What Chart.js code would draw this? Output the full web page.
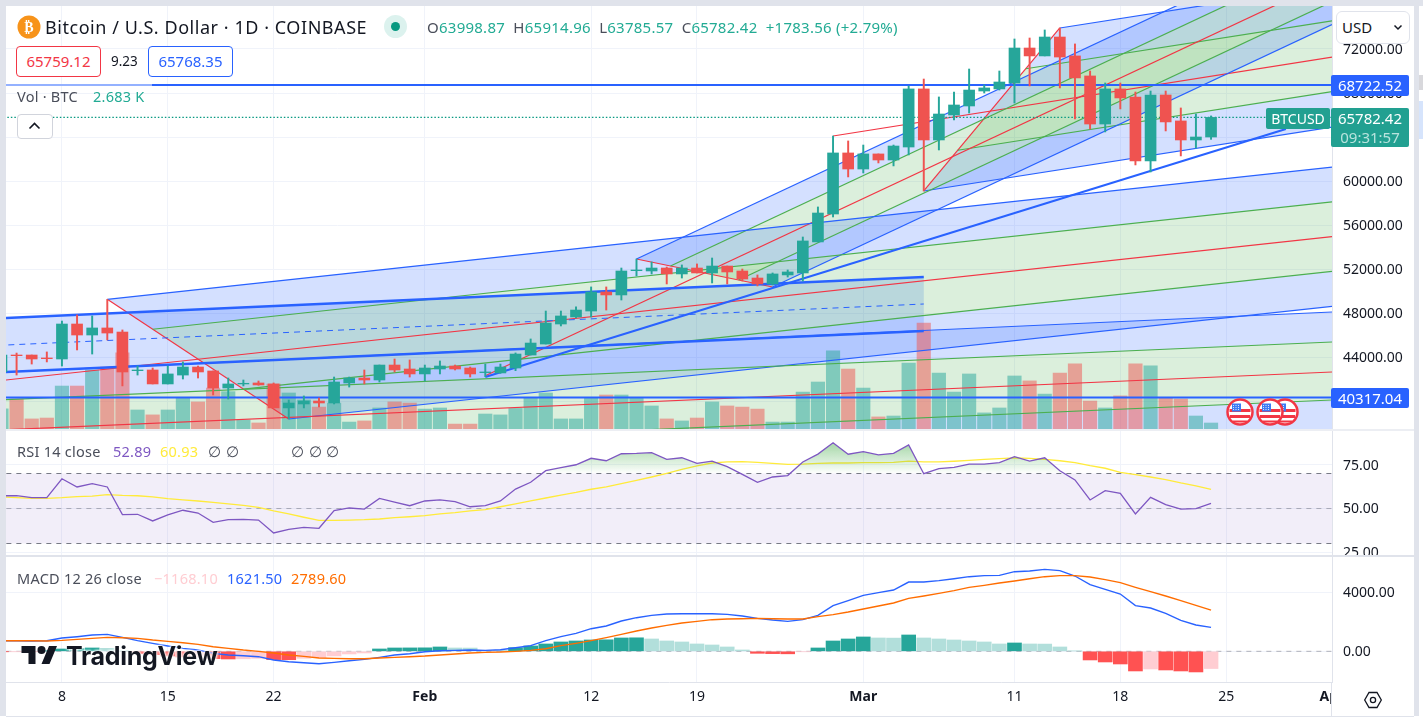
<!DOCTYPE html>
<html>
<head>
<meta charset="utf-8">
<title>BTCUSD</title>
<script src="https://cdn.jsdelivr.net/npm/chart.js@4"></script>
<style>
html, body { margin: 0; padding: 0; background: #fff; overflow: hidden; }
body { width: 1423px; height: 727px; position: relative; font-family: "Noto Sans", sans-serif; color: #131722; }
canvas { position: absolute; left: 6px; }
.abs { position: absolute; white-space: nowrap; }
.rect { position: absolute; }
.tag { position: absolute; color: #fff; text-align: center; font-size: 15px; border-radius: 2px; }
.leg { position: absolute; white-space: nowrap; font-size: 14.5px; line-height: 20px; letter-spacing: 0.25px; }
.dim { color: #4a4e5a; }
</style>
</head>
<body>
<div class="rect" style="left:0;top:0;width:1423px;height:6px;background:#e0e3eb"></div>
<div class="rect" style="left:0;top:0;width:6px;height:716px;background:#e0e3eb"></div>
<div class="rect" style="left:1414px;top:0;width:5px;height:716px;background:#e0e3eb"></div>
<div class="rect" style="left:1419px;top:75px;width:4px;height:15px;background:#d8d8dc"></div>
<div class="rect" style="left:1419px;top:101px;width:4px;height:38px;background:#d6e4fc"></div>
<div class="rect" style="left:6px;top:716px;width:1408px;height:1px;background:#e0e3eb"></div>

<canvas id="price-chart" width="1408" height="423" style="top:6px"></canvas>
<canvas id="rsi-chart" width="1408" height="124" style="top:431px"></canvas>
<canvas id="macd-chart" width="1408" height="159" style="top:557px"></canvas>

<div class="rect" style="left:6px;top:429px;width:1408px;height:2px;background:#eceef3"></div>
<div class="rect" style="left:6px;top:555px;width:1408px;height:2px;background:#e0e3eb"></div>

<!-- header -->
<svg class="abs" style="left:17px;top:15px" width="24" height="24" viewBox="0 0 24 24">
  <circle cx="12" cy="12" r="11.5" fill="#f7931a"/>
  <text x="12" y="17" text-anchor="middle" font-family="DejaVu Sans" font-size="14" font-weight="bold" fill="#fff">₿</text>
</svg>
<div class="abs" style="left:45px;top:14px;font-size:18px;line-height:26px;letter-spacing:0.55px">Bitcoin / U.S. Dollar · 1D · COINBASE</div>
<div class="rect" style="left:384px;top:15px;width:23px;height:23px;border-radius:50%;background:#dcf2ee"></div>
<div class="rect" style="left:391px;top:22px;width:9px;height:9px;border-radius:50%;background:#089981"></div>
<div class="abs" style="left:427px;top:16px;font-size:15px;line-height:22px;letter-spacing:0.25px;color:#22ab94"><span class="dim">O</span>63998.87&nbsp; <span class="dim">H</span>65914.96&nbsp; <span class="dim">L</span>63785.57&nbsp; <span class="dim">C</span>65782.42&nbsp; +1783.56 (+2.79%)</div>

<div class="rect" style="left:16px;top:46px;width:83px;height:29px;border:1px solid #f23645;border-radius:4px;background:#fff;color:#f23645;text-align:center;font-size:15px;line-height:29px">65759.12</div>
<div class="abs" style="left:111px;top:51px;font-size:13.5px;line-height:20px">9.23</div>
<div class="rect" style="left:148px;top:46px;width:83px;height:29px;border:1px solid #2962ff;border-radius:4px;background:#fff;color:#2962ff;text-align:center;font-size:15px;line-height:29px">65768.35</div>

<div class="rect" style="left:6px;top:84px;width:146px;height:2px;background:rgba(255,255,255,0.5)"></div>
<div class="leg dim" style="left:17px;top:86px">Vol · BTC</div>
<div class="leg" style="left:93px;top:86px;color:#22ab94">2.683 K</div>
<div class="rect" style="left:17px;top:114px;width:34px;height:23px;border:1px solid #d1d4dc;border-radius:4px;background:#fff"></div>
<svg class="abs" style="left:28px;top:122px" width="13" height="8" viewBox="0 0 13 8"><path d="M1.5 6.5 L6.5 1.5 L11.5 6.5" fill="none" stroke="#131722" stroke-width="1.6"/></svg>

<!-- price labels on the axis -->
<div class="rect" style="left:1336px;top:11px;width:72px;height:31px;border:1px solid #e0e3eb;border-radius:6px;background:#fff;font-size:15px;line-height:31px;text-indent:5px">USD</div>
<svg class="abs" style="left:1393px;top:24px" width="10" height="7" viewBox="0 0 10 7"><path d="M1.5 1.5 L5 5 L8.5 1.5" fill="none" stroke="#131722" stroke-width="1.5"/></svg>
<div class="tag" style="left:1331px;top:75px;width:78px;height:21px;line-height:21px;background:#2962ff">68722.52</div>
<div class="tag" style="left:1266px;top:108px;width:64px;height:21px;line-height:21px;background:#22a091;font-size:14px">BTCUSD</div>
<div class="tag" style="left:1331px;top:108px;width:78px;height:39px;background:#22a091;line-height:19px;padding-top:1px;box-sizing:border-box">65782.42<br><span style="color:#b8e3dd">09:31:57</span></div>
<div class="tag" style="left:1331px;top:388px;width:78px;height:20px;line-height:20px;background:#2962ff">40317.04</div>

<!-- event flags -->
<svg class="abs" style="left:1226px;top:398px" width="76" height="30" viewBox="0 0 76 30">
  <defs>
    <g id="flag">
      <circle cx="0" cy="0" r="12.5" fill="#fff" stroke="#f23645" stroke-width="2.5"/>
      <path d="M-10.500 -3h21v3h-21z M-10 3h20v3h-20z M-7 8.500h14v2h-14z" fill="#f23645"/>
      <path d="M-8 -8.500h9v8h-9z" fill="#3d7bf5"/>
      <path d="M-6.500 -7v5 M-4 -7v5 M-1.500 -7v5" stroke="#fff" stroke-width="0.8" stroke-dasharray="1 1"/>
    </g>
  </defs>
  <use href="#flag" x="59" y="14"/>
  <use href="#flag" x="44" y="14"/>
  <use href="#flag" x="14" y="14"/>
</svg>

<!-- pane legends -->
<div class="leg" style="left:17px;top:441px"><span class="dim">RSI 14 close</span></div>
<div class="leg" style="left:113px;top:441px;color:#7e57c2">52.89</div>
<div class="leg" style="left:160px;top:441px;color:#ffeb3b">60.93</div>
<div class="leg" style="left:208px;top:441px;color:#4a4e5a">∅</div>
<div class="leg" style="left:226px;top:441px;color:#4a4e5a">∅</div>
<div class="leg" style="left:291px;top:441px;color:#4a4e5a">∅</div>
<div class="leg" style="left:309px;top:441px;color:#4a4e5a">∅</div>
<div class="leg" style="left:326px;top:441px;color:#4a4e5a">∅</div>
<div class="leg" style="left:17px;top:568px"><span class="dim">MACD 12 26 close</span></div>
<div class="leg" style="left:154px;top:568px;color:#ffcdd2">−1168.10</div>
<div class="leg" style="left:227px;top:568px;color:#2962ff">1621.50</div>
<div class="leg" style="left:291px;top:568px;color:#ff6d00">2789.60</div>

<!-- logo -->
<svg class="abs" style="left:21px;top:646px" width="37" height="18" viewBox="0 4 36 18"><path d="M14 22H7V11H0V4h14v18zM28 22h-8l7.500-18h8L28 22z" fill="#131722"/><circle cx="20" cy="8" r="4" fill="#131722"/></svg>
<div class="abs" style="left:66px;top:638px;font-family:Inter,sans-serif;font-weight:700;font-size:25px;line-height:36px;letter-spacing:-0.3px;color:#131722;text-shadow:0 0 3px #fff,0 0 3px #fff,0 0 3px #fff">TradingView</div>

<!-- bottom right of the axes -->
<div class="rect" style="left:1331px;top:683px;width:83px;height:33px;background:#fff;border-left:1px solid #e0e3eb;box-sizing:border-box"></div>
<svg class="abs" style="left:1363px;top:690px" width="20" height="20" viewBox="0 0 20 20"><path d="M6 2.500h8l4.300 7.500-4.300 7.500h-8L1.700 10z" fill="none" stroke="#131722" stroke-width="1.300"/><circle cx="10" cy="10" r="2.600" fill="none" stroke="#131722" stroke-width="1.300"/></svg>

<script>
// candles from Jan 4 to Mar 24, day 0 is Jan 8
const opens = [42670, 44180, 44180, 43910, 43820, 47000, 46000, 46640, 46270, 42760, 42820, 41550, 42360, 43090, 42730, 41180, 41550, 41640, 41550, 39370, 39730, 40000, 39820, 41640, 42090, 41910, 43270, 42910, 42460, 42910, 43180, 43000, 42580, 42550, 43000, 44180, 45180, 47000, 47640, 48180, 49910, 49640, 51850, 51820, 52090, 51550, 52090, 51640, 52270, 51820, 51180, 50640, 51460, 51640, 54460, 57000, 62550, 61090, 62460, 61910, 63090, 68370, 63730, 66000, 66820, 68180, 68370, 68910, 72090, 71370, 73090, 71370, 69550, 65180, 68370, 67640, 61820, 67820, 65460, 63730, 63998.87];
const highs = [44180, 44360, 44180, 44460, 47270, 47820, 47730, 49240, 46460, 43180, 43000, 43180, 43550, 43180, 42730, 42090, 41910, 41820, 41640, 40090, 40460, 40270, 42180, 42180, 42820, 43270, 43820, 43730, 43270, 43640, 43270, 43090, 43360, 43360, 44370, 45640, 48180, 48180, 48550, 50370, 50370, 52090, 52910, 52640, 52180, 52370, 52460, 53000, 52270, 52000, 51460, 51640, 51910, 54910, 57640, 64090, 63640, 63270, 62460, 63270, 68640, 69270, 67640, 68090, 70180, 68730, 70000, 72910, 73000, 73730, 73910, 72460, 70000, 68910, 68910, 68090, 68180, 68180, 66640, 66090, 65914.96];
const lows = [42670, 42360, 43360, 43550, 43180, 44640, 44270, 45550, 41370, 42360, 41550, 41550, 42000, 42090, 40550, 40180, 41370, 41430, 39370, 38370, 39370, 39460, 39730, 41270, 41550, 41730, 42640, 42180, 41820, 42460, 42820, 42180, 42210, 42520, 42760, 44180, 45180, 46820, 47550, 47640, 48270, 49180, 51370, 51550, 50640, 51180, 51640, 50730, 50640, 50910, 50460, 50550, 51270, 50910, 54460, 56730, 60370, 60730, 61640, 61370, 62370, 59090, 62820, 65550, 66180, 68000, 68270, 67090, 68640, 71370, 68460, 65640, 64730, 64460, 66550, 61460, 60820, 64550, 62280, 63000, 63785.57];
const closes = [44180, 44120, 43820, 43850, 47000, 46000, 46640, 46180, 42640, 42820, 41550, 42460, 43090, 42640, 41180, 41550, 41610, 41460, 39370, 39820, 40000, 39820, 41730, 42090, 41910, 43270, 42820, 42460, 43000, 43180, 42910, 42460, 42640, 43090, 44270, 45270, 47090, 47730, 48270, 49910, 49640, 51820, 51910, 52090, 51550, 52090, 51640, 52270, 51730, 51090, 50640, 51550, 51730, 54550, 57090, 62550, 61090, 62460, 61910, 63180, 68370, 63730, 66090, 66910, 68270, 68460, 69000, 72090, 71370, 73090, 71270, 69370, 65180, 68370, 67550, 61820, 67820, 65370, 63730, 64000, 65782.42];
// volume in thousands of BTC
const volumes = [9, 13.4, 4.5, 4.9, 19.2, 19.2, 26.4, 27.7, 34, 8.5, 6.3, 8.5, 13.7, 12.1, 18.3, 16.7, 4, 2.7, 20.1, 16.1, 13, 9.8, 11.6, 3.1, 3.6, 9.4, 12.1, 11.6, 8.9, 9.4, 2.2, 2.2, 6.7, 6.3, 9.2, 13.9, 16.1, 4.5, 4.5, 13.9, 15.2, 15.2, 13.9, 10.3, 4.5, 3.6, 4.9, 12.1, 10.3, 9.8, 8.9, 3.1, 3.1, 16.5, 21, 34.9, 26.8, 18.3, 5.4, 5.8, 29.5, 47.4, 25, 16.5, 24.6, 7.2, 9.4, 23.7, 21.5, 15.6, 25, 29.1, 12.5, 9.4, 14.8, 29.1, 28.2, 13.9, 13.4, 5.8, 2.683];
const rsi = [57.3, 57.3, 56.2, 56.2, 67, 62.3, 64.2, 62.3, 46.5, 46.7, 42.9, 46.3, 49, 47.4, 42.1, 43.6, 43.8, 43.4, 36, 38.1, 39.2, 38.7, 48.8, 50.3, 49.7, 55.8, 53.7, 51.6, 54.3, 54.9, 53.9, 51, 51.6, 54.3, 61.1, 65, 71.6, 73.3, 75, 78.7, 77.3, 81.3, 81.5, 81.9, 78.1, 79, 75.8, 77.1, 73.9, 69.5, 65, 68, 68.8, 76.6, 81.1, 87.6, 81, 82.5, 80.6, 81.5, 86.3, 69.9, 72.8, 73.5, 75.4, 75.4, 76.2, 79.6, 77.1, 79, 71.6, 66.3, 54.9, 60.2, 58.7, 46.9, 56.4, 52.2, 49.7, 49.9, 52.89];
const rsiAverage = [56.6, 56.2, 55.8, 55.8, 56.2, 56.8, 57.1, 57.9, 57.5, 57.3, 56.6, 55.6, 54.9, 54.3, 53.5, 52.6, 51.8, 50.7, 48.6, 46.9, 45, 43.2, 43.2, 43.4, 43.6, 44, 44.8, 45.3, 45.9, 46.9, 47.6, 48.6, 49.3, 51, 52.7, 54.3, 56, 57.7, 59.2, 61, 62.3, 64.2, 66.1, 68, 70.1, 72.4, 74.3, 76, 76.6, 76.8, 76.4, 75.8, 75.2, 75.4, 75.8, 76, 76, 76.2, 76.2, 76.4, 77.1, 76.6, 76.6, 77, 77.5, 78.1, 78.5, 78.9, 78.7, 78.1, 77.3, 76.2, 74.5, 73, 70.7, 69.3, 68, 66.5, 64.6, 62.9, 60.93];
const macd = [720, 720, 697, 720, 900, 991, 1104, 1149, 946, 720, 539, 358, 200, 87, -140, -252, -297, -365, -591, -704, -772, -840, -749, -636, -546, -410, -252, -162, -26, 42, 64, 87, 64, 109, 245, 381, 720, 991, 1217, 1533, 1714, 2053, 2279, 2437, 2528, 2550, 2550, 2550, 2505, 2392, 2234, 2121, 2031, 2144, 2437, 3093, 3432, 3794, 3974, 4155, 4697, 4697, 4788, 4923, 5059, 5127, 5149, 5398, 5443, 5556, 5466, 5104, 4517, 4200, 3884, 3093, 2935, 2573, 2098, 1782, 1621.5];
const macdSignal = [720, 720, 720, 697, 742, 810, 878, 946, 923, 878, 765, 675, 584, 471, 313, 200, 87, -3, -116, -252, -342, -455, -478, -501, -501, -455, -410, -365, -320, -252, -184, -116, -71, -49, -3, 64, 177, 381, 539, 720, 923, 1149, 1375, 1579, 1759, 1918, 2031, 2144, 2189, 2211, 2234, 2211, 2189, 2189, 2347, 2483, 2663, 2867, 3070, 3274, 3590, 3748, 3929, 4110, 4336, 4472, 4630, 4765, 4923, 5059, 5127, 5127, 5036, 4856, 4652, 4336, 4042, 3748, 3432, 3115, 2789.6];
const macdHist = [-20, -20, -20, 23, 158, 181, 226, 203, 23, -158, -226, -317, -384, -384, -497, -520, -510, -475, -565, -570, -475, -430, -316, -181, -113, 158, 226, 230, 235, 294, 226, 220, 68, 60, 249, 362, 497, 633, 701, 768, 780, 904, 915, 836, 701, 633, 497, 429, 294, 90, -136, -158, -170, -23, 226, 700, 836, 972, 904, 895, 1107, 904, 836, 768, 701, 633, 497, 565, 497, 490, 294, 23, -587, -723, -859, -1333, -1198, -1266, -1333, -1400, -1168.1];
const dayIndex = opens.map((_, i) => i - 4);

// axis ticks
const timeTickDays = [0, 7, 14, 24, 35, 42, 53, 63, 70, 77, 84];
const timeTickLabels = ['8', '15', '22', 'Feb', '12', '19', 'Mar', '11', '18', '25', 'Apr'];
const priceTicks = [40000, 44000, 48000, 52000, 56000, 60000, 64000, 68000, 72000];
const rsiTicks = [25, 50, 75];
const macdTicks = [0, 4000];

// price levels
const resistanceLevel = 68722.52;
const supportLevel = 40317.04;
const lastClose = 65782.42;

// pitchforks: five parallel lines, from the top one to the bottom one
const endDay = 84;
const fork0Days = [-5, -5, -5, -5, -5];
const fork0Start = [42555, 40042, 37314, 34769, 31951];
const fork0End = [48091, 45364, 42636, 40091, 37273];
const fork1Days = [3, 6, 9, 12, 15];
const fork1Start = [49243, 46523, 43804, 41084, 38365];
const fork1End = [61270, 58106, 54942, 51776, 48611];
const fork1Handle = [-5, 41716];
const fork2Days = [38, 40.25, 42.5, 44.75, 47];
const fork2Start = [52910, 52273, 51637, 51000, 50364];
const fork2End = [82562, 80474, 78388, 76301, 74214];
const fork2Handle = [28, 42290];
const fork3Days = [66, 63.75, 61.5, 59.25, 57];
const fork3Start = [73910, 70205, 66501, 62797, 59093];
const fork3End = [77780, 74559, 71270, 68118, 64898];
const fork3Handle = [51, 64093];

// parallel channel, top, middle, bottom
const channelDays = [-5, 57];
const channelTop = [47464, 51273];
const channelMiddle = [45009, 48818];
const channelBottom = [42555, 46364];

// trend line
const trendDays = [28, 80.95];
const trendPrices = [42182, 64727];

const UP = '#26a69a';
const DOWN = '#ef5350';
const BLUE = '#2962ff';
const GREEN = '#4caf50';
const RED = '#f23645';
const BLUE_FILL = 'rgba(41, 98, 255, 0.2)';
const GREEN_FILL = 'rgba(76, 175, 80, 0.2)';
const GRID = '#f0f3fa';
const MIN_DAY = -3.7;

function segment(x0, y0, x1, y1, color, width, order, dash) {
    return {
        type: 'line',
        data: [{ x: x0, y: y0 }, { x: x1, y: y1 }],
        borderColor: color,
        borderWidth: width,
        borderDash: dash || [],
        pointRadius: 0,
        fill: false,
        order: order
    };
}

function polygon(points, color, order) {
    return {
        type: 'line',
        data: points.map(p => ({ x: p[0], y: p[1] })),
        backgroundColor: color,
        borderWidth: 0,
        pointRadius: 0,
        fill: 'shape',
        order: order
    };
}

// fills between the lines of a fork, then the lines on top of them
function forkDatasets(days, start, end, handle) {
    const colors = [BLUE, GREEN, RED, GREEN, BLUE];
    const fills = [BLUE_FILL, GREEN_FILL, GREEN_FILL, BLUE_FILL];
    const out = [];
    fills.forEach((color, i) => {
        out.push(polygon([[days[i], start[i]], [endDay, end[i]], [endDay, end[i + 1]], [days[i + 1], start[i + 1]]], color, 40));
    });
    colors.forEach((color, i) => {
        if (i === 2 && handle) {
            out.push(segment(handle[0], handle[1], endDay, end[i], color, 1.2, 20));
        } else {
            out.push(segment(days[i], start[i], endDay, end[i], color, 1.2, 20));
        }
    });
    if (days[0] !== days[4]) {
        out.push(segment(days[0], start[0], days[4], start[4], RED, 1.2, 20));
    }
    return out;
}

function scaleX(showLabels) {
    return {
        type: 'linear',
        offset: false,
        min: MIN_DAY,
        max: endDay,
        afterBuildTicks: s => { s.ticks = timeTickDays.map(v => ({ value: v })); },
        afterFit: s => { s.height = showLabels ? 34 : 0; s.paddingLeft = 0; s.paddingRight = 0; },
        grid: { color: GRID, drawTicks: false, offset: false },
        border: { display: showLabels, color: '#e0e3eb' },
        ticks: {
            display: showLabels,
            autoSkip: false,
            maxRotation: 0,
            padding: 7,
            color: '#131722',
            callback: v => timeTickLabels[timeTickDays.indexOf(v)],
            font: c => ({
                family: '"Noto Sans"',
                size: 14,
                weight: ['Feb', 'Mar', 'Apr'].includes(timeTickLabels[timeTickDays.indexOf(c.tick ? c.tick.value : 0)]) ? 'bold' : 'normal'
            })
        }
    };
}

function scaleY(min, max, tickValues) {
    return {
        position: 'right',
        min: min,
        max: max,
        afterBuildTicks: s => { s.ticks = tickValues.map(v => ({ value: v })); },
        afterFit: s => { s.width = 82; s.paddingTop = 0; s.paddingBottom = 0; },
        grid: { color: GRID, drawTicks: false },
        border: { color: '#e0e3eb' },
        ticks: {
            autoSkip: false,
            crossAlign: 'near',
            padding: 11,
            labelOffset: 1,
            color: '#131722',
            font: { family: '"Noto Sans"', size: 14 },
            callback: v => v.toFixed(2)
        }
    };
}

function baseOptions(scales) {
    return {
        responsive: false,
        animation: false,
        devicePixelRatio: 1,
        layout: { padding: 0 },
        events: [],
        plugins: { legend: { display: false }, tooltip: { enabled: false } },
        scales: scales
    };
}

function candleColors() {
    return opens.map((o, i) => closes[i] >= o ? UP : DOWN);
}

function createPriceChart() {
    const colors = candleColors();
    const datasets = [];
    datasets.push({
        type: 'bar',
        yAxisID: 'vol',
        data: dayIndex.map((d, i) => ({ x: d, y: volumes[i] })),
        backgroundColor: colors.map(c => c === UP ? 'rgba(38, 166, 154, 0.5)' : 'rgba(239, 83, 80, 0.5)'),
        barThickness: 13.5,
        grouped: false,
        order: 30
    });
    datasets.push(...forkDatasets(fork0Days, fork0Start, fork0End));
    datasets.push(...forkDatasets(fork1Days, fork1Start, fork1End, fork1Handle));
    datasets.push(...forkDatasets(fork2Days, fork2Start, fork2End, fork2Handle));
    datasets.push(...forkDatasets(fork3Days, fork3Start, fork3End, fork3Handle));

    datasets.push(polygon([[channelDays[0], channelTop[0]], [channelDays[1], channelTop[1]], [channelDays[1], channelBottom[1]], [channelDays[0], channelBottom[0]]], BLUE_FILL, 40));
    datasets.push(segment(channelDays[0], channelTop[0], channelDays[1], channelTop[1], BLUE, 2.5, 15));
    datasets.push(segment(channelDays[0], channelMiddle[0], channelDays[1], channelMiddle[1], BLUE, 1, 15, [6, 5]));
    datasets.push(segment(channelDays[0], channelBottom[0], channelDays[1], channelBottom[1], BLUE, 2.5, 15));

    datasets.push(segment(trendDays[0], trendPrices[0], trendDays[1], trendPrices[1], BLUE, 2, 10));
    datasets.push(segment(-5, resistanceLevel, endDay, resistanceLevel, BLUE, 2, 10));
    datasets.push(segment(-5, supportLevel, endDay, supportLevel, BLUE, 2, 10));
    datasets.push(segment(-5, lastClose, endDay, lastClose, '#089981', 1.2, 9, [1.5, 2]));

    datasets.push({
        type: 'bar',
        data: dayIndex.map((d, i) => ({ x: d, y: [lows[i], highs[i]] })),
        backgroundColor: colors,
        barThickness: 1.3,
        grouped: false,
        order: 2
    });
    datasets.push({
        type: 'bar',
        data: dayIndex.map((d, i) => ({ x: d, y: [opens[i], closes[i]] })),
        backgroundColor: colors,
        barThickness: 11,
        grouped: false,
        order: 1
    });

    new Chart(document.getElementById('price-chart'), {
        data: { datasets: datasets },
        options: baseOptions({
            x: scaleX(false),
            y: scaleY(37455, 75909, priceTicks),
            vol: { display: false, min: 0, max: 189.1 }
        })
    });
}

function createRsiChart() {
    const ctx = document.getElementById('rsi-chart').getContext('2d');
    const glow = ctx.createLinearGradient(0, 15, 0, 43);
    glow.addColorStop(0, 'rgba(76, 175, 80, 0.45)');
    glow.addColorStop(1, 'rgba(76, 175, 80, 0)');

    new Chart(ctx, {
        data: {
            datasets: [
                {
                    type: 'line',
                    data: [{ x: -5, y: 70 }, { x: endDay, y: 70 }],
                    borderWidth: 0,
                    pointRadius: 0,
                    backgroundColor: 'rgba(126, 87, 194, 0.1)',
                    fill: { target: { value: 30 } },
                    order: 20
                },
                segment(-5, 70, endDay, 70, '#787b86', 1, 10, [5, 5]),
                segment(-5, 50, endDay, 50, 'rgba(120, 123, 134, 0.55)', 1, 10, [5, 5]),
                segment(-5, 30, endDay, 30, '#787b86', 1, 10, [5, 5]),
                {
                    type: 'line',
                    data: dayIndex.map((d, i) => ({ x: d, y: rsi[i] })),
                    borderColor: '#7e57c2',
                    borderWidth: 1.3,
                    pointRadius: 0,
                    fill: { target: { value: 70 }, above: glow, below: 'rgba(0, 0, 0, 0)' },
                    order: 2
                },
                {
                    type: 'line',
                    data: dayIndex.map((d, i) => ({ x: d, y: rsiAverage[i] })),
                    borderColor: '#ffeb3b',
                    borderWidth: 1.3,
                    pointRadius: 0,
                    fill: false,
                    order: 3
                }
            ]
        },
        options: baseOptions({
            x: scaleX(false),
            y: scaleY(23.43, 94.29, rsiTicks)
        })
    });
}

function histColor(v, prev) {
    if (v >= 0) {
        return v > prev ? '#26a69a' : '#b2dfdb';
    }
    return v < prev ? '#ff5252' : '#ffcdd2';
}

function createMacdChart() {
    new Chart(document.getElementById('macd-chart'), {
        data: {
            datasets: [
                segment(-5, 0, endDay, 0, 'rgba(120, 123, 134, 0.55)', 1, 10, [5, 5]),
                {
                    type: 'bar',
                    data: dayIndex.map((d, i) => ({ x: d, y: macdHist[i] })),
                    backgroundColor: macdHist.map((v, i) => histColor(v, i ? macdHist[i - 1] : 0)),
                    barThickness: 14,
                    grouped: false,
                    order: 5
                },
                {
                    type: 'line',
                    data: dayIndex.map((d, i) => ({ x: d, y: macd[i] })),
                    borderColor: BLUE,
                    borderWidth: 1.4,
                    pointRadius: 0,
                    fill: false,
                    order: 2
                },
                {
                    type: 'line',
                    data: dayIndex.map((d, i) => ({ x: d, y: macdSignal[i] })),
                    borderColor: '#ff6d00',
                    borderWidth: 1.4,
                    pointRadius: 0,
                    fill: false,
                    order: 1
                }
            ]
        },
        options: baseOptions({
            x: scaleX(true),
            y: scaleY(-2081, 6393, macdTicks)
        })
    });
}

createPriceChart();
createRsiChart();
createMacdChart();
</script>
</body>
</html>
